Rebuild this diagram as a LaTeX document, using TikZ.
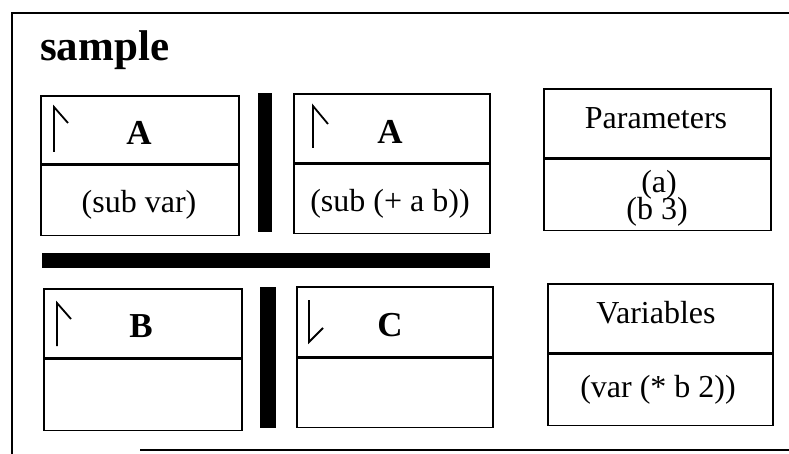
\documentclass[tikz,border=0pt]{standalone}
\usepackage{fontspec}
\setmainfont{Liberation Serif}
\begin{document}
\begin{tikzpicture}[x=1pt,y=-1pt,
  frameline/.style={line width=2pt},
  cell/.style={draw, line width=1.6pt, inner sep=0pt, anchor=north west},
  bar/.style={fill=black},
  ttl/.style={anchor=base, inner sep=0pt, font=\fontsize{35}{35}\selectfont\bfseries},
  txt/.style={anchor=base, inner sep=0pt, font=\fontsize{32}{32}\selectfont},
  flag/.style={line width=1.8pt}]
\useasboundingbox (0,0) rectangle (789,454);

% outer frame (open on the right)
\draw[frameline] (789,13) -- (12,13) -- (12,454);
\draw[frameline] (140,450) -- (789,450);

% heading
\node[anchor=base west, inner sep=0pt, font=\fontsize{43}{43}\selectfont\bfseries] (title) at (40,61) {sample};

% separator bars
\fill[bar] (258,93) rectangle (272,232);
\fill[bar] (260,287) rectangle (276,428);
\fill[bar] (42,253) rectangle (490,268);

% first rule: A
\node[cell, minimum width=198pt, minimum height=68pt] (a1h) at (40,95) {};
\node[cell, minimum width=198pt, minimum height=70pt] (a1b) at (a1h.south west) {};
\node[ttl] (a1t) at (139,145) {A};
\node[txt] (a1v) at (139,213) {(sub var)};
\draw[flag] (54,152) -- (54,107) -- (68,123);

% second rule: A
\node[cell, minimum width=196pt, minimum height=69pt] (a2h) at (293,93) {};
\node[cell, minimum width=196pt, minimum height=69pt] (a2b) at (a2h.south west) {};
\node[ttl] (a2t) at (390,144) {A};
\node[txt] (a2v) at (390,212) {(sub (+ a b))};
\draw[flag] (313,148) -- (313,106) -- (328,124);

% parameters
\node[cell, minimum width=227pt, minimum height=69pt] (ph) at (543,88) {};
\node[cell, minimum width=227pt, minimum height=71pt] (pb) at (ph.south west) {};
\node[txt] (pt) at (656,129) {Parameters};
\node[txt] (pa) at (659,193) {(a)};
\node[txt] (pbv) at (657,220) {(b 3)};

% third rule: B
\node[cell, minimum width=198pt, minimum height=69pt] (bh) at (43,288) {};
\node[cell, minimum width=198pt, minimum height=71pt] (bb) at (bh.south west) {};
\node[ttl] (bt) at (141,337) {B};
\draw[flag] (57,346) -- (57,303) -- (71,319);

% fourth rule: C
\node[cell, minimum width=196pt, minimum height=70pt] (ch) at (296,286) {};
\node[cell, minimum width=196pt, minimum height=69pt] (cb) at (ch.south west) {};
\node[ttl] (ct) at (390,336) {C};
\draw[flag] (309,300) -- (309,342) -- (323,328);

% variables
\node[cell, minimum width=225pt, minimum height=69pt] (vh) at (547,283) {};
\node[cell, minimum width=225pt, minimum height=71pt] (vb) at (vh.south west) {};
\node[txt] (vt) at (656,323) {Variables};
\node[txt] (vv) at (658,397) {(var (* b 2))};
\end{tikzpicture}
\end{document}
